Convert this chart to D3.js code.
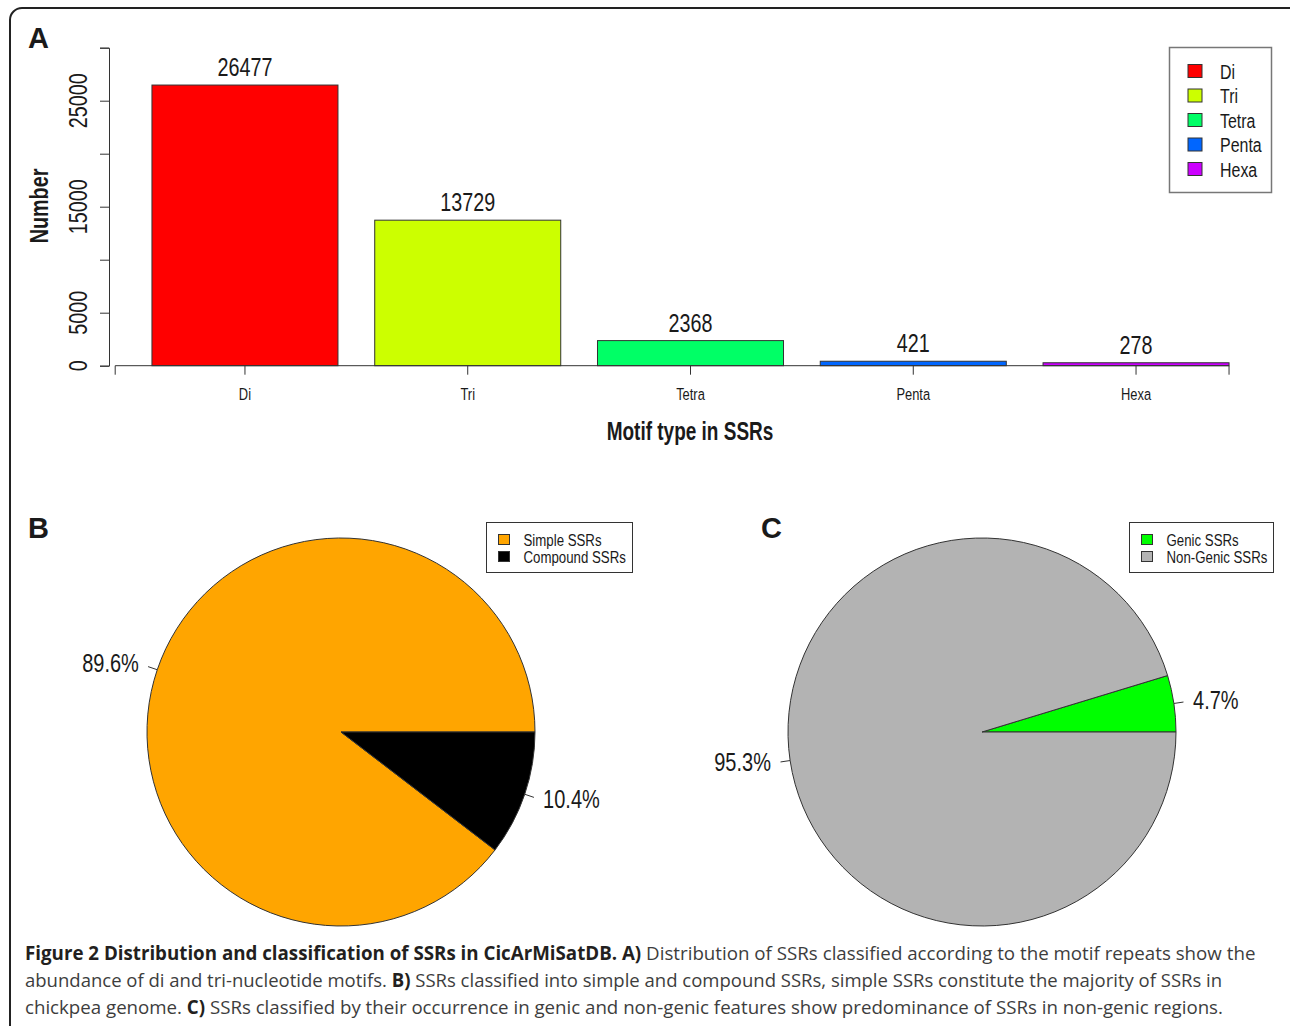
<!DOCTYPE html>
<html>
<head>
<meta charset="utf-8">
<script src="https://cdn.jsdelivr.net/npm/d3@7"></script>
<style>
  body { margin: 0; background: #fff; }
  svg { display: block; }
  text { font-family: "Liberation Sans", Arial, sans-serif; fill: #1a1a1a; }
</style>
</head>
<body>
<svg width="1290" height="1026"></svg>
<script>
// panel A: SSR motif types
const motifs = ["Di", "Tri", "Tetra", "Penta", "Hexa"];
const motifCounts = [26477, 13729, 2368, 421, 278];
const motifColors = ["#FF0000", "#CCFF00", "#00FF66", "#0066FF", "#CC00FF"];
const yTicks = [0, 5000, 10000, 15000, 20000, 25000, 30000];
const yTickLabels = ["0", "5000", "", "15000", "", "25000", ""];

// panel B: simple vs compound
const typeNames = ["Simple SSRs", "Compound SSRs"];
const typePct = [89.6, 10.4];
const typeColors = ["#FFA500", "#000000"];

// panel C: genic vs non-genic
const locNames = ["Genic SSRs", "Non-Genic SSRs"];
const locPct = [4.7, 95.3];
const locColors = ["#00FF00", "#B3B3B3"];

const captionLines = [
  [["Figure 2 Distribution and classification of SSRs in CicArMiSatDB. A)", true], [" Distribution of SSRs classified according to the motif repeats show the", false]],
  [["abundance of di and tri-nucleotide motifs. ", false], ["B)", true], [" SSRs classified into simple and compound SSRs, simple SSRs constitute the majority of SSRs in", false]],
  [["chickpea genome. ", false], ["C)", true], [" SSRs classified by their occurrence in genic and non-genic features show predominance of SSRs in non-genic regions.", false]]
];

const svg = d3.select("svg");

// outer frame
svg.append("rect")
  .attr("x", 10).attr("y", 8).attr("width", 1300).attr("height", 1040)
  .attr("rx", 12)
  .attr("fill", "none").attr("stroke", "#222").attr("stroke-width", 2);

// narrow-looking R text
function label(g, x, y, str, size, anchor, opts = {}) {
  const sx = opts.sx || 0.76;
  const rot = opts.rot || 0;
  return g.append("text")
    .attr("transform", `translate(${x},${y}) rotate(${rot}) scale(${sx},1)`)
    .attr("text-anchor", anchor)
    .attr("font-size", size)
    .attr("font-weight", opts.bold ? "bold" : null)
    .text(str);
}

// ---------- A: bar chart ----------
const gA = svg.append("g");
const x = d3.scaleBand().domain(motifs).range([115.2, 1265.8]).paddingInner(0.165).paddingOuter(0.165);
const y = d3.scaleLinear().domain([0, 30000]).range([365.7, 47.7]);

gA.selectAll("rect.bar")
  .data(motifs)
  .join("rect")
  .attr("class", "bar")
  .attr("x", d => x(d))
  .attr("width", x.bandwidth())
  .attr("y", (d, i) => y(motifCounts[i]))
  .attr("height", (d, i) => y(0) - y(motifCounts[i]))
  .attr("fill", (d, i) => motifColors[i])
  .attr("stroke", "#333").attr("stroke-width", 1);

motifs.forEach((d, i) => {
  label(gA, x(d) + x.bandwidth() / 2, y(motifCounts[i]) - 9, String(motifCounts[i]), 26, "middle");
});

// y axis
const yAxis = gA.append("g").attr("transform", "translate(109,0)")
  .call(d3.axisLeft(y).tickValues(yTicks).tickSize(9).tickFormat(""));
yAxis.select(".domain").attr("stroke", "#333");
yAxis.selectAll(".tick line").attr("stroke", "#333");
yTicks.forEach((t, i) => {
  if (yTickLabels[i]) label(gA, 87, y(t), yTickLabels[i], 26, "middle", { rot: -90 });
});
label(gA, 48, 206, "Number", 26, "middle", { rot: -90, bold: true });

// x axis
const xEnd = x(motifs[motifs.length - 1]) + x.bandwidth();
const xa = gA.append("g").attr("transform", `translate(0,${y(0)})`);
xa.append("line").attr("x1", x.range()[0]).attr("x2", xEnd).attr("stroke", "#333");
const xTickPos = [x.range()[0], ...motifs.map(d => x(d) + x.bandwidth() / 2), xEnd];
xa.selectAll("line.tk").data(xTickPos).join("line").attr("class", "tk")
  .attr("x1", d => d).attr("x2", d => d).attr("y1", 0).attr("y2", 9)
  .attr("stroke", "#333");
motifs.forEach(d => label(gA, x(d) + x.bandwidth() / 2, 400, d, 17, "middle"));
label(gA, 690, 440, "Motif type in SSRs", 25, "middle", { bold: true });

// legend A
const legA = gA.append("g");
legA.append("rect").attr("x", 1169.5).attr("y", 47.5).attr("width", 102).attr("height", 145)
  .attr("fill", "#fff").attr("stroke", "#777").attr("stroke-width", 1.5);
motifs.forEach((d, i) => {
  const ry = 71 + i * 24.5;
  legA.append("rect").attr("x", 1188).attr("y", ry - 6.5).attr("width", 14).attr("height", 13)
    .attr("fill", motifColors[i]).attr("stroke", "#333");
  label(legA, 1220, ry + 7.5, d, 21, "start");
});

// panel letters
[["A", 28, 48], ["B", 28, 538], ["C", 761, 538]].forEach(([t, lx, ly]) => {
  svg.append("text").attr("x", lx).attr("y", ly).attr("font-size", 29)
    .attr("font-weight", "bold").attr("fill", "#000").text(t);
});

// ---------- pies (R style: start at 3 o'clock, counter-clockwise) ----------
function drawPie(cx, cy, r, pcts, colors, names, leg) {
  const g = svg.append("g").attr("transform", `translate(${cx},${cy})`);
  const pie = d3.pie().sort(null).startAngle(Math.PI / 2).endAngle(Math.PI / 2 - 2 * Math.PI);
  const arcs = pie(pcts);
  const arc = d3.arc().innerRadius(0).outerRadius(r);
  g.selectAll("path").data(arcs).join("path")
    .attr("d", arc)
    .attr("fill", (d, i) => colors[i])
    .attr("stroke", "#333").attr("stroke-width", 1);
  arcs.forEach((a, i) => {
    const m = (a.startAngle + a.endAngle) / 2;
    const sx = Math.sin(m), sy = -Math.cos(m);
    g.append("line")
      .attr("x1", sx * r).attr("y1", sy * r)
      .attr("x2", sx * r * 1.05).attr("y2", sy * r * 1.05)
      .attr("stroke", "#333");
    label(g, sx * r * 1.1, sy * r * 1.1 + 8, pcts[i].toFixed(1) + "%", 25, sx < 0 ? "end" : "start", { sx: 0.8 });
  });
  const lg = svg.append("g");
  lg.append("rect").attr("x", leg.x).attr("y", leg.y).attr("width", leg.w).attr("height", 50)
    .attr("fill", "#fff").attr("stroke", "#333").attr("stroke-width", 1);
  names.forEach((n, i) => {
    const ry = leg.y + 17 + i * 17;
    lg.append("rect").attr("x", leg.x + 12).attr("y", ry - 5).attr("width", 11).attr("height", 10)
      .attr("fill", colors[i]).attr("stroke", "#333");
    label(lg, leg.x + 37, ry + 6, n, 17, "start", { sx: 0.78 });
  });
}

drawPie(341, 732, 194, typePct, typeColors, typeNames, { x: 486.5, y: 522.5, w: 146 });
drawPie(982, 732, 194, locPct, locColors, locNames, { x: 1129.5, y: 522.5, w: 144 });

// ---------- caption ----------
const cap = svg.append("g");
const capWidths = [1231, 1198, 1199];
captionLines.forEach((line, i) => {
  const t = cap.append("text")
    .attr("font-size", 19)
    .style("font-family", "'Open Sans', sans-serif");
  line.forEach(([s, b]) => {
    t.append("tspan")
      .attr("font-weight", b ? "bold" : "normal")
      .attr("fill", b ? "#231f20" : "#3d3d3d")
      .text(s);
  });
  // squeeze the line to the width of the journal font
  const w = t.node().getComputedTextLength();
  t.attr("transform", `translate(25,${960 + i * 27}) scale(${capWidths[i] / w},1)`);
});
</script>
</body>
</html>
